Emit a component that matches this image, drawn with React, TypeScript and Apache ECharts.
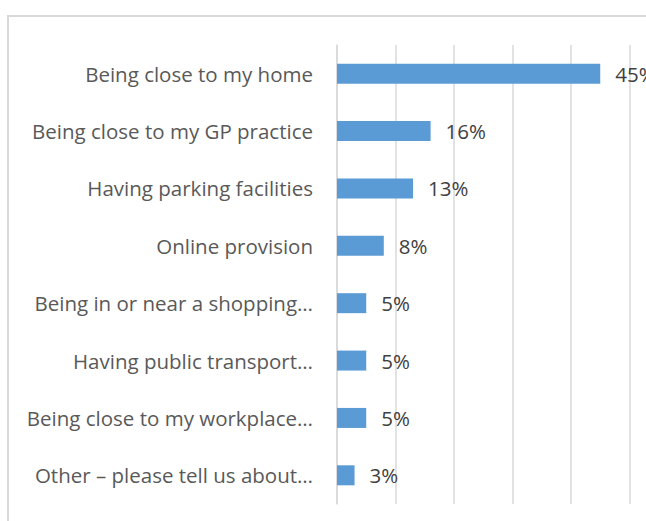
import React, { useEffect, useRef } from "react";
import * as echarts from "echarts";

const categories = [
  "Being close to my home",
  "Being close to my GP practice",
  "Having parking facilities",
  "Online provision",
  "Being in or near a shopping…",
  "Having public transport…",
  "Being close to my workplace…",
  "Other – please tell us about…",
];
const values = [45, 16, 13, 8, 5, 5, 5, 3];
const valueLabels = ["45%", "16%", "13%", "8%", "5%", "5%", "5%", "3%"];

export default function App() {
  const ref = useRef<HTMLDivElement>(null);
  useEffect(() => {
    if (!ref.current) return;
    const chart = echarts.init(ref.current, null, { renderer: "svg" });
    chart.setOption({
      animation: false,
      backgroundColor: "#ffffff",
      graphic: [
        {
          type: "rect",
          shape: { x: 8, y: 16, width: 700, height: 600 },
          style: { fill: "none", stroke: "#d9d9d9", lineWidth: 2 },
          silent: true,
        },
      ],
      grid: { left: 337, right: 16.5, top: 45, bottom: 17, containLabel: false },
      xAxis: {
        type: "value",
        min: 0,
        max: 50,
        interval: 10,
        axisLabel: { show: false },
        axisLine: { show: false },
        axisTick: { show: false },
        splitLine: { show: true, lineStyle: { color: "#d9d9d9", width: 1.5 } },
      },
      yAxis: {
        type: "category",
        inverse: true,
        data: categories,
        axisTick: { show: false },
        axisLine: { show: true, lineStyle: { color: "#d9d9d9", width: 1.5 } },
        axisLabel: {
          margin: 24,
          color: "#595959",
          fontSize: 20.5,
          fontFamily: "Open Sans",
        },
      },
      series: [
        {
          type: "bar",
          data: values,
          barWidth: 20,
          itemStyle: { color: "#5b9bd5" },
          label: {
            show: true,
            position: "right",
            distance: 15,
            color: "#404040",
            fontSize: 20.5,
            fontFamily: "Open Sans",
            formatter: (p: any) => valueLabels[p.dataIndex],
          },
        },
      ],
    });
    return () => chart.dispose();
  }, []);
  return (
    <div
      ref={ref}
      style={{ position: "fixed", left: 0, top: 0, width: 646, height: 521 }}
    />
  );
}
